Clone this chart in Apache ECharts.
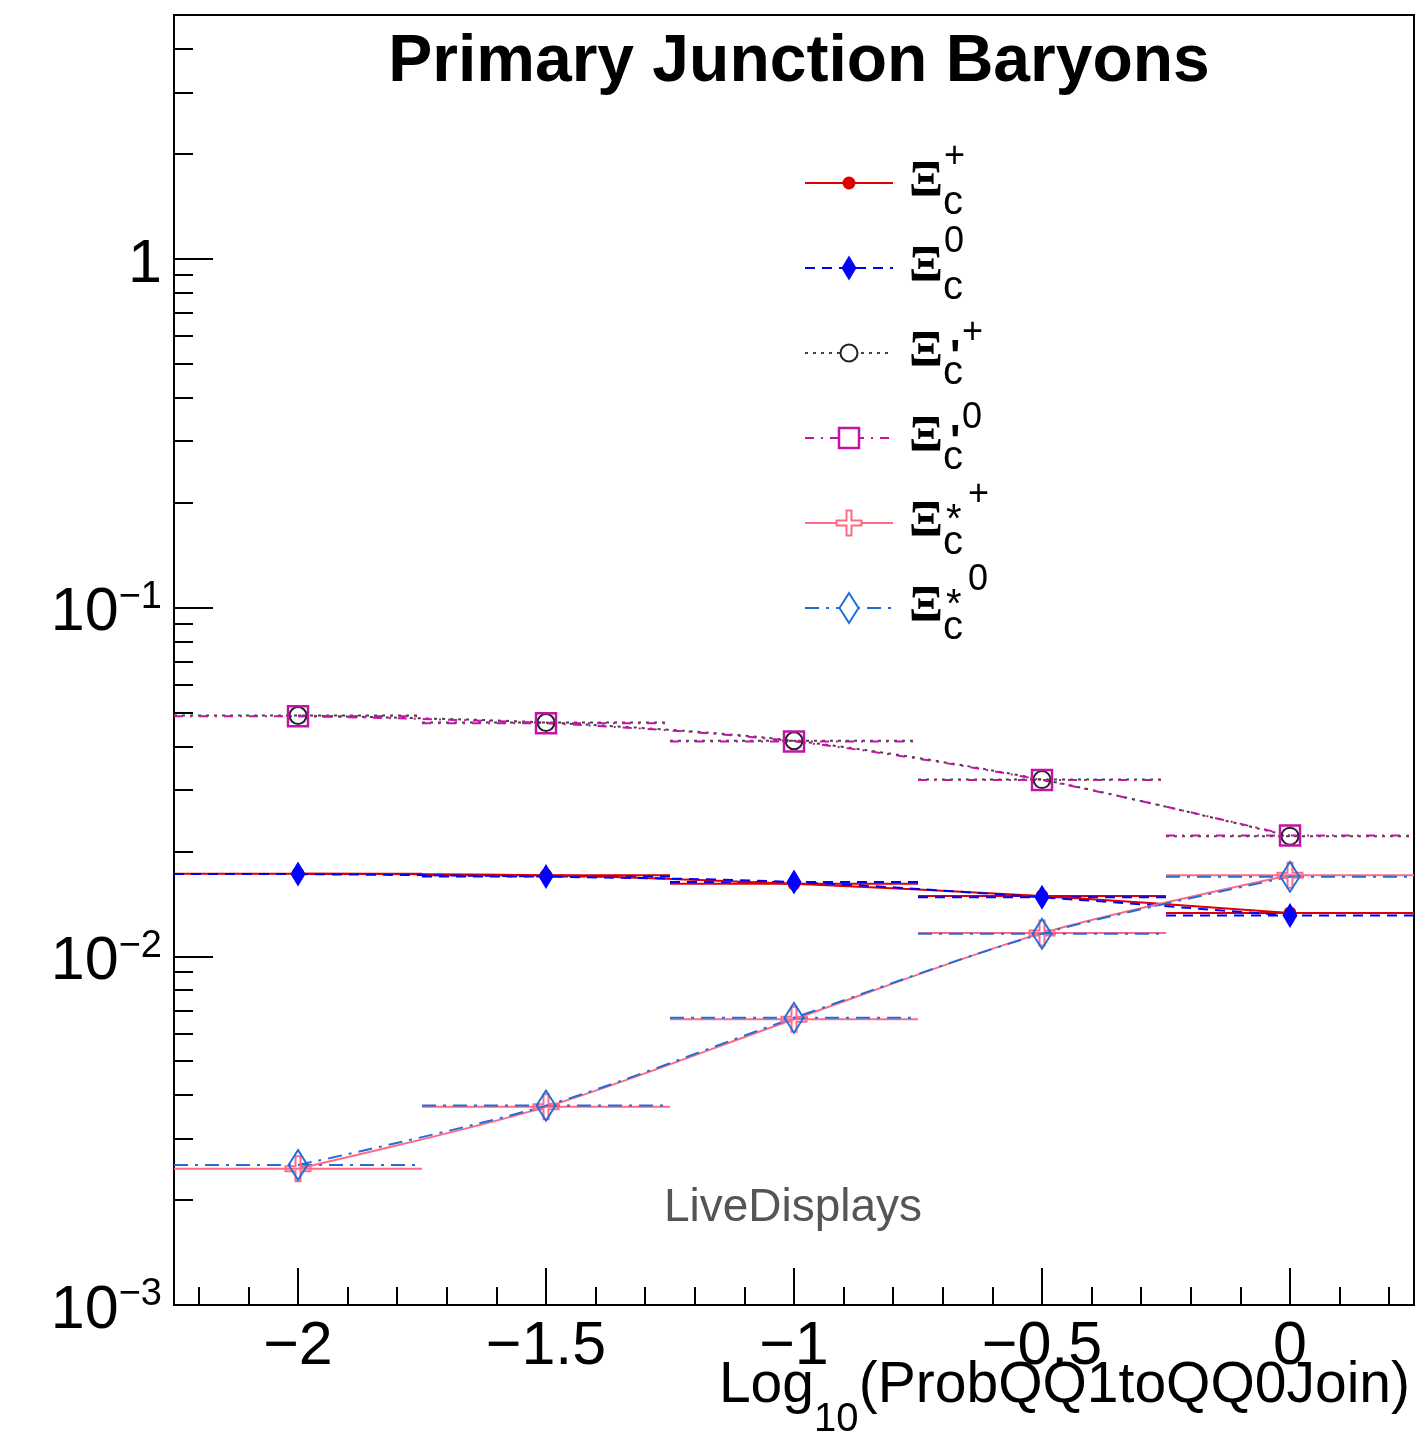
<!DOCTYPE html>
<html>
<head>
<meta charset="utf-8">
<script src="https://cdn.jsdelivr.net/npm/echarts@6/dist/echarts.min.js"></script>
<style>
html,body{margin:0;padding:0;background:#fff;}
#chart{width:1422px;height:1435px;}
</style>
</head>
<body>
<div id="chart"></div>
<script>
// ---- data ----
const binCenters = [-2, -1.5, -1, -0.5, 0];
const binHalfWidth = 0.25;
const xiCPlus      = [0.01725, 0.01706, 0.01613, 0.01489, 0.01331];
const xiC0         = [0.01720, 0.01692, 0.01632, 0.01476, 0.01308];
const xiCPrimePlus = [0.0490, 0.0468, 0.0415, 0.0321, 0.0221];
const xiCPrime0    = [0.0488, 0.0466, 0.0413, 0.0320, 0.0222];
const xiCStarPlus  = [0.00246, 0.00370, 0.00660, 0.01165, 0.01706];
const xiCStar0     = [0.00252, 0.00373, 0.00666, 0.01160, 0.01690];
const xMajorTicks = [-2, -1.5, -1, -0.5, 0];
const xMinorTicks = [-2.2, -2.1, -1.9, -1.8, -1.7, -1.6, -1.4, -1.3, -1.2, -1.1, -0.9, -0.8, -0.7, -0.6, -0.4, -0.3, -0.2, -0.1, 0.1, 0.2];
const yMajorTicks = [0.001, 0.01, 0.1, 1];
const yMinorTicks = [0.002, 0.003, 0.004, 0.005, 0.006, 0.007, 0.008, 0.009,
                     0.02, 0.03, 0.04, 0.05, 0.06, 0.07, 0.08, 0.09,
                     0.2, 0.3, 0.4, 0.5, 0.6, 0.7, 0.8, 0.9,
                     2, 3, 4];
const titleText = 'Primary Junction Baryons';
const watermark = 'LiveDisplays';

// ---- styles ----
const FONT = '"Liberation Sans", Arial, Helvetica, sans-serif';
const crossPath = 'path://M4,0 L6,0 L6,4 L10,4 L10,6 L6,6 L6,10 L4,10 L4,6 L0,6 L0,4 L4,4 Z';
const seriesDefs = [
  {name: 'Ξc+',  values: xiCPlus,      color: '#dd0000', dash: 'solid',        width: 2,
   symbol: 'circle', size: 13, fill: '#dd0000', border: null, bw: 0, sup: '+', mod: ''},
  {name: 'Ξc0',  values: xiC0,         color: '#0000ff', dash: [10, 7],        width: 2,
   symbol: 'diamond', size: [15, 25], fill: '#0000ff', border: null, bw: 0, sup: '0', mod: ''},
  {name: "Ξc'+", values: xiCPrimePlus, color: '#444444', dash: [3, 5],         width: 2,
   symbol: 'circle', size: 17, fill: 'rgba(0,0,0,0)', border: '#222222', bw: 2, sup: '+', mod: "'"},
  {name: "Ξc'0", values: xiCPrime0,    color: '#c414a8', dash: [9, 7, 2, 7],   width: 2,
   symbol: 'rect', size: 20, fill: 'rgba(0,0,0,0)', border: '#c414a8', bw: 2.5, sup: '0', mod: "'"},
  {name: 'Ξc*+', values: xiCStarPlus,  color: '#ff6a86', dash: 'solid',        width: 2,
   symbol: crossPath, size: 25, fill: 'rgba(0,0,0,0)', border: '#ff6a86', bw: 2, sup: '+', mod: '*'},
  {name: 'Ξc*0', values: xiCStar0,     color: '#1f6fd6', dash: [14, 7, 3, 7],  width: 2,
   symbol: 'diamond', size: [19, 30], fill: 'rgba(0,0,0,0)', border: '#1f6fd6', bw: 2, sup: '0', mod: '*'}
];

const series = [];
seriesDefs.forEach(function (d) {
  const pts = binCenters.map(function (x, i) { return [x, d.values[i]]; });
  series.push({
    type: 'custom', name: d.name + ' bins', silent: true, clip: true,
    data: pts, encode: {x: 0, y: 1},
    renderItem: function (params, api) {
      const x = api.value(0), y = api.value(1);
      const p1 = api.coord([x - binHalfWidth, y]);
      const p2 = api.coord([x + binHalfWidth, y]);
      return {type: 'line', shape: {x1: p1[0], y1: p1[1], x2: p2[0], y2: p2[1]},
              style: {stroke: d.color, lineWidth: d.width, lineDash: d.dash === 'solid' ? null : d.dash}};
    }
  });
  series.push({
    type: 'line', name: d.name, data: pts, smooth: 0.3, silent: true,
    symbol: d.symbol, symbolSize: d.size,
    lineStyle: {color: d.color, width: d.width, type: d.dash},
    itemStyle: {color: d.fill, borderColor: d.border || d.fill, borderWidth: d.bw, opacity: 1},
    emphasis: {disabled: true}
  });
});

// ---- legend (drawn as graphics) ----
const legendRows = [183, 268, 353, 438, 523, 608];
const legendX1 = 805, legendX2 = 893, legendMX = 849;
const graphics = [];
function markerGraphic(d, cx, cy) {
  const stroke = d.border || d.fill;
  if (d.symbol === 'circle') {
    const r = d.size / 2;
    return {type: 'circle', shape: {cx: cx, cy: cy, r: r},
            style: {fill: d.bw ? '#fff' : d.fill, stroke: d.bw ? stroke : null, lineWidth: d.bw}};
  }
  if (d.symbol === 'diamond') {
    const w = d.size[0] / 2, h = d.size[1] / 2;
    return {type: 'polygon', shape: {points: [[cx, cy - h], [cx + w, cy], [cx, cy + h], [cx - w, cy]]},
            style: {fill: d.bw ? '#fff' : d.fill, stroke: d.bw ? stroke : null, lineWidth: d.bw}};
  }
  if (d.symbol === 'rect') {
    const s = d.size;
    return {type: 'rect', shape: {x: cx - s / 2, y: cy - s / 2, width: s, height: s},
            style: {fill: '#fff', stroke: stroke, lineWidth: d.bw}};
  }
  const s = d.size / 10;
  const raw = [[4,0],[6,0],[6,4],[10,4],[10,6],[6,6],[6,10],[4,10],[4,6],[0,6],[0,4],[4,4]];
  return {type: 'polygon', shape: {points: raw.map(function (p) { return [cx + (p[0] - 5) * s, cy + (p[1] - 5) * s]; })},
          style: {fill: '#fff', stroke: stroke, lineWidth: d.bw}};
}
seriesDefs.forEach(function (d, i) {
  const y = legendRows[i];
  graphics.push({type: 'line', shape: {x1: legendX1, y1: y, x2: legendX2, y2: y},
                 style: {stroke: d.color, lineWidth: d.width, lineDash: d.dash === 'solid' ? null : d.dash}});
  graphics.push(markerGraphic(d, legendMX, y));
  graphics.push({type: 'text', style: {text: 'Ξ', x: 909, y: y - 1, fill: '#000',
                 font: 'bold 50px "Liberation Serif", serif', textAlign: 'left', textVerticalAlign: 'middle'}});
  graphics.push({type: 'text', style: {text: 'c', x: 943, y: y + 20, fill: '#000',
                 font: '40px ' + FONT, textAlign: 'left', textVerticalAlign: 'middle'}});
  let supX = 944, supY = y - 26;
  if (d.mod === "'") {
    graphics.push({type: 'text', style: {text: "'", x: 950, y: y + 6, fill: '#000',
                   font: 'bold 44px ' + FONT, textAlign: 'left', textVerticalAlign: 'middle'}});
    supX = 962; supY = y - 20;
  } else if (d.mod === '*') {
    graphics.push({type: 'text', style: {text: '*', x: 946, y: y - 2, fill: '#000',
                   font: '40px ' + FONT, textAlign: 'left', textVerticalAlign: 'middle'}});
    supX = 968; supY = y - 28;
  }
  graphics.push({type: 'text', style: {text: d.sup, x: supX, y: supY, fill: '#000',
                 font: '36px ' + FONT, textAlign: 'left', textVerticalAlign: 'middle'}});
});
graphics.push({type: 'text', style: {text: watermark, x: 793, y: 1208, fill: '#555555',
               font: '46px ' + FONT, textAlign: 'center', textVerticalAlign: 'middle'}});
graphics.push({type: 'text', style: {
  text: '{a|Log}{s|10}{z| }{a|(ProbQQ1toQQ0Join)}', x: 1410, y: 1399, fill: '#000',
  textAlign: 'right', textVerticalAlign: 'middle',
  rich: {
    a: {fontSize: 57, fontFamily: FONT, lineHeight: 60, verticalAlign: 'top', fill: '#000'},
    s: {fontSize: 40, fontFamily: FONT, lineHeight: 30, verticalAlign: 'bottom', fill: '#000'},
    z: {fontSize: 1, fontFamily: FONT, lineHeight: 82, verticalAlign: 'middle', fill: '#000'}
  }}});

function xLabel(v) {
  return (v < 0 ? '\u2212' : '') + String(Math.abs(v));
}
function yLabel(v) {
  const e = Math.round(Math.log10(v));
  if (e === 0) return '{n|1}';
  return '{n|10}{s|' + (e < 0 ? '\u2212' : '') + Math.abs(e) + '}';
}

const chart = echarts.init(document.getElementById('chart'), null, {renderer: 'canvas'});
chart.setOption({
  animation: false,
  backgroundColor: '#fff',
  title: {text: titleText, left: 794, top: 25, textAlign: 'center',
          textStyle: {fontSize: 66, fontWeight: 'bold', fontFamily: FONT, color: '#000'}},
  grid: {left: 174, right: 8, top: 15, bottom: 130, show: true, borderColor: '#000', borderWidth: 2,
         backgroundColor: 'transparent', containLabel: false, outerBoundsMode: 'none'},
  xAxis: [
    {type: 'value', min: -2.25, max: 0.25, position: 'bottom',
     axisLine: {show: false, onZero: false}, splitLine: {show: false},
     axisTick: {show: true, inside: true, length: 37, customValues: xMajorTicks, lineStyle: {color: '#000', width: 2}},
     axisLabel: {show: true, customValues: xMajorTicks, formatter: xLabel, margin: 12,
                 fontSize: 61, fontFamily: FONT, color: '#000'}},
    {type: 'value', min: -2.25, max: 0.25, position: 'bottom',
     axisLine: {show: false, onZero: false}, splitLine: {show: false}, axisLabel: {show: false},
     axisTick: {show: true, inside: true, length: 18, customValues: xMinorTicks, lineStyle: {color: '#000', width: 2}}}
  ],
  yAxis: [
    {type: 'log', logBase: 10, min: 0.001, max: 5, position: 'left',
     axisLine: {show: false, onZero: false}, splitLine: {show: false}, minorTick: {show: false},
     axisTick: {show: true, inside: true, length: 39, customValues: yMajorTicks, lineStyle: {color: '#000', width: 2}},
     axisLabel: {show: true, customValues: yMajorTicks, formatter: yLabel, margin: 12, padding: [12, 0, 0, 0],
                 rich: {
                   n: {fontSize: 61, fontFamily: FONT, lineHeight: 70, color: '#000'},
                   s: {fontSize: 38, fontFamily: FONT, lineHeight: 30, verticalAlign: 'top', color: '#000'}
                 }}},
    {type: 'log', logBase: 10, min: 0.001, max: 5, position: 'left',
     axisLine: {show: false, onZero: false}, splitLine: {show: false}, axisLabel: {show: false},
     axisTick: {show: true, inside: true, length: 19, customValues: yMinorTicks, lineStyle: {color: '#000', width: 2}}}
  ],
  series: series,
  graphic: graphics
});
</script>
</body>
</html>
